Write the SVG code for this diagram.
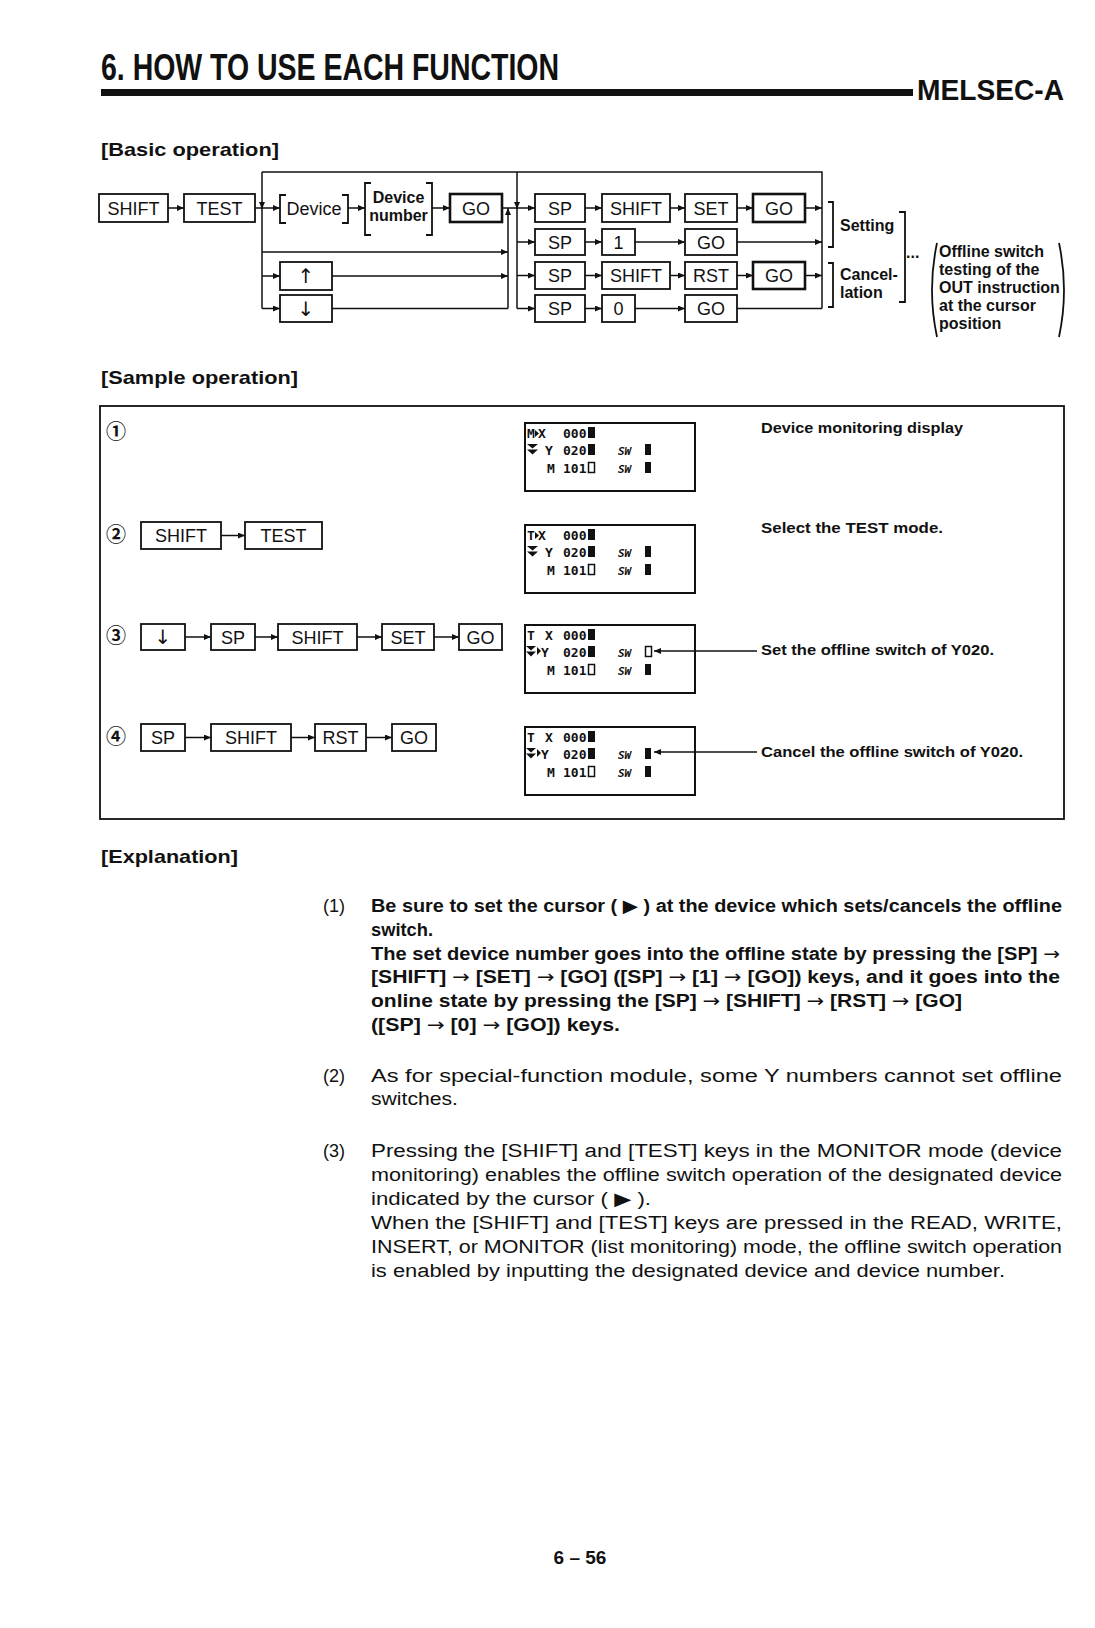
<svg xmlns="http://www.w3.org/2000/svg" width="1095" height="1628" viewBox="0 0 1095 1628">
<defs>
<marker id="ar" markerUnits="userSpaceOnUse" markerWidth="8" markerHeight="6" refX="7" refY="3" orient="auto">
<path d="M0,0 L7,3 L0,6 z" fill="#111"/>
</marker>
<style>
text{font-family:"Liberation Sans",Arial,sans-serif;fill:#111}
.k{fill:#fff;stroke:#111;stroke-width:1.8}
.kg{fill:#fff;stroke:#111;stroke-width:2.6}
.kt{font-size:18px;text-anchor:middle}
.ka{font-family:"DejaVu Sans",sans-serif;font-size:20px;text-anchor:middle}
.ln{fill:none;stroke:#111;stroke-width:1.5}
.a{fill:none;stroke:#111;stroke-width:1.5;marker-end:url(#ar)}
.br{fill:none;stroke:#111;stroke-width:1.8}
.h{font-size:19px;font-weight:bold}
.lb{font-size:16px;font-weight:bold}
.rt{font-size:15px;font-weight:bold}
.p{font-size:18px}
.pb{font-size:18px;font-weight:bold}
.arr{font-family:"DejaVu Sans",sans-serif;font-weight:normal}
.cn{font-family:"Noto Sans CJK JP","DejaVu Sans",sans-serif;font-size:20px;font-weight:bold;text-anchor:middle}
.lcd{fill:none;stroke:#111;stroke-width:2}
.m{font-family:"DejaVu Sans Mono","Liberation Mono",monospace;font-size:13px;font-weight:bold}
.sw{font-family:"DejaVu Sans Mono","Liberation Mono",monospace;font-size:11px;font-weight:bold;font-style:italic}
</style>
</defs>

<g id="header">
<text x="101" y="80" font-size="36" font-weight="bold" textLength="458" lengthAdjust="spacingAndGlyphs">6. HOW TO USE EACH FUNCTION</text>
<rect x="101" y="89" width="812" height="7" fill="#111"/>
<text x="917" y="100" font-size="29" font-weight="bold" textLength="147" lengthAdjust="spacingAndGlyphs">MELSEC-A</text>
</g>

<text class="h" x="101" y="156" textLength="178" lengthAdjust="spacingAndGlyphs">[Basic operation]</text>

<g id="basic-connectors">
<path class="a" d="M168,208 H184"/>
<path class="ln" d="M255,208 H262"/>
<path class="ln" d="M262,172 H822 V308.5"/>
<path class="a" d="M262,172 V209"/>
<path class="ln" d="M262,208 V308.5"/>
<path class="a" d="M262,208 H280"/>
<path class="a" d="M348,208 H365"/>
<path class="a" d="M432,208 H450"/>
<path class="ln" d="M502,208 H517"/>
<path class="a" d="M262,252 H508"/>
<path class="a" d="M262,276 H280"/>
<path class="a" d="M332,276 H508"/>
<path class="a" d="M262,308.5 H280"/>
<path class="ln" d="M332,308.5 H508"/>
<path class="a" d="M508,308.5 V208"/>
<path class="a" d="M517,172 V209"/>
<path class="ln" d="M517,208 V308.5"/>
<path class="a" d="M517,208 H535"/>
<path class="a" d="M517,242 H535"/>
<path class="a" d="M517,275.5 H535"/>
<path class="a" d="M517,308.5 H535"/>
<path class="a" d="M585,208 H602"/>
<path class="a" d="M670,208 H685"/>
<path class="a" d="M737,208 H753"/>
<path class="a" d="M805,208 H822"/>
<path class="a" d="M585,242 H602"/>
<path class="a" d="M635,242 H685"/>
<path class="a" d="M737,242 H822"/>
<path class="a" d="M585,275.5 H602"/>
<path class="a" d="M670,275.5 H685"/>
<path class="a" d="M737,275.5 H753"/>
<path class="a" d="M805,275.5 H822"/>
<path class="a" d="M585,308.5 H602"/>
<path class="a" d="M635,308.5 H685"/>
<path class="ln" d="M737,308.5 H822"/>
</g>

<g id="b-shift"><rect class="k" x="99" y="194" width="69" height="28"/><text class="kt" x="133.5" y="214.5">SHIFT</text></g>
<g id="b-test"><rect class="k" x="184" y="194" width="71" height="28"/><text class="kt" x="219.5" y="214.5">TEST</text></g>
<g id="b-device"><path class="br" d="M286,195 h-6 v28 h6 M342,195 h6 v28 h-6"/><text class="kt" x="314" y="215">Device</text></g>
<g id="b-devnum"><path class="br" d="M371,183 h-6 v52 h6 M426,183 h6 v52 h-6"/><text class="lb" x="398.5" y="203" text-anchor="middle">Device</text><text class="lb" x="398.5" y="221" text-anchor="middle">number</text></g>
<g id="b-go1"><rect class="kg" x="450" y="194" width="52" height="28"/><text class="kt" x="476" y="214.5">GO</text></g>
<g id="b-up"><rect class="k" x="280" y="262" width="52" height="28"/><text class="ka" x="306" y="283">↑</text></g>
<g id="b-down"><rect class="k" x="280" y="295" width="52" height="27"/><text class="ka" x="306" y="315.5">↓</text></g>

<g id="r1-sp"><rect class="k" x="535" y="194" width="50" height="28"/><text class="kt" x="560" y="214.5">SP</text></g>
<g id="r1-shift"><rect class="k" x="602" y="194" width="68" height="28"/><text class="kt" x="636" y="214.5">SHIFT</text></g>
<g id="r1-set"><rect class="k" x="685" y="194" width="52" height="28"/><text class="kt" x="711" y="214.5">SET</text></g>
<g id="r1-go"><rect class="kg" x="753" y="194" width="52" height="28"/><text class="kt" x="779" y="214.5">GO</text></g>
<g id="r2-sp"><rect class="k" x="535" y="229" width="50" height="26"/><text class="kt" x="560" y="248.5">SP</text></g>
<g id="r2-1"><rect class="k" x="602" y="229" width="33" height="26"/><text class="kt" x="618.5" y="248.5">1</text></g>
<g id="r2-go"><rect class="k" x="685" y="229" width="52" height="26"/><text class="kt" x="711" y="248.5">GO</text></g>
<g id="r3-sp"><rect class="k" x="535" y="262" width="50" height="27"/><text class="kt" x="560" y="282">SP</text></g>
<g id="r3-shift"><rect class="k" x="602" y="262" width="68" height="27"/><text class="kt" x="636" y="282">SHIFT</text></g>
<g id="r3-rst"><rect class="k" x="685" y="262" width="52" height="27"/><text class="kt" x="711" y="282">RST</text></g>
<g id="r3-go"><rect class="kg" x="753" y="262" width="52" height="27"/><text class="kt" x="779" y="282">GO</text></g>
<g id="r4-sp"><rect class="k" x="535" y="295" width="50" height="27"/><text class="kt" x="560" y="315">SP</text></g>
<g id="r4-0"><rect class="k" x="602" y="295" width="33" height="27"/><text class="kt" x="618.5" y="315">0</text></g>
<g id="r4-go"><rect class="k" x="685" y="295" width="52" height="27"/><text class="kt" x="711" y="315">GO</text></g>

<g id="b-notes">
<path class="br" d="M828,202 h5 v45 h-5 M828,263 h5 v44 h-5 M899,212 h6 v90 h-6"/>
<text class="lb" x="840" y="231">Setting</text>
<text class="lb" x="840" y="280">Cancel-</text>
<text class="lb" x="840" y="298">lation</text>
<text class="lb" x="906" y="258">...</text>
<path class="br" d="M937,243 Q927,290 937,337 M1059,243 Q1069,290 1059,337"/>
<text class="lb" x="939" y="257">Offline switch</text>
<text class="lb" x="939" y="275">testing of the</text>
<text class="lb" x="939" y="293">OUT instruction</text>
<text class="lb" x="939" y="311">at the cursor</text>
<text class="lb" x="939" y="329">position</text>
</g>

<text class="h" x="101" y="384" textLength="197" lengthAdjust="spacingAndGlyphs">[Sample operation]</text>
<rect x="100" y="406" width="964" height="413" fill="none" stroke="#111" stroke-width="1.8"/>

<g id="step1"><text class="cn" x="116" y="439">①</text></g>
<g id="step2"><text class="cn" x="116" y="542">②</text>
<rect class="k" x="141" y="522" width="80" height="27"/><text class="kt" x="181" y="542">SHIFT</text>
<rect class="k" x="245" y="522" width="77" height="27"/><text class="kt" x="283.5" y="542">TEST</text></g>
<g id="step3"><text class="cn" x="116" y="643">③</text>
<rect class="k" x="141" y="624" width="44" height="26"/><text class="ka" x="163" y="644">↓</text>
<rect class="k" x="211" y="624" width="44" height="26"/><text class="kt" x="233" y="643.5">SP</text>
<rect class="k" x="278" y="624" width="79" height="26"/><text class="kt" x="317.5" y="643.5">SHIFT</text>
<rect class="k" x="382" y="624" width="52" height="26"/><text class="kt" x="408" y="643.5">SET</text>
<rect class="k" x="459" y="624" width="43" height="26"/><text class="kt" x="480.5" y="643.5">GO</text></g>
<g id="step4"><text class="cn" x="116" y="744">④</text>
<rect class="k" x="141" y="724" width="44" height="27"/><text class="kt" x="163" y="744">SP</text>
<rect class="k" x="211" y="724" width="80" height="27"/><text class="kt" x="251" y="744">SHIFT</text>
<rect class="k" x="315" y="724" width="51" height="27"/><text class="kt" x="340.5" y="744">RST</text>
<rect class="k" x="392" y="724" width="44" height="27"/><text class="kt" x="414" y="744">GO</text></g>

<g id="lcd1" transform="translate(525,423)">
<rect class="lcd" x="0" y="0" width="170" height="68"/>
<text class="m" x="2" y="15">M</text><polygon points="10,7 14,10.5 10,14" fill="#111"/><text class="m" x="13" y="15">X</text><text class="m" x="38" y="15">000</text><rect x="63" y="4" width="7" height="11" fill="#111"/>
<polygon points="2,21 13,21 7.5,25.5" fill="#111"/><polygon points="2,26.5 13,26.5 7.5,31.5" fill="#111"/><text class="m" x="20" y="32">Y</text><text class="m" x="38" y="32">020</text><rect x="63" y="21" width="7" height="11" fill="#111"/><text class="sw" x="93" y="32">SW</text><rect x="120" y="21" width="6" height="11" fill="#111"/>
<text class="m" x="22" y="50">M</text><text class="m" x="38" y="50">101</text><rect x="63.5" y="39.5" width="6" height="10" fill="none" stroke="#111" stroke-width="1.5"/><text class="sw" x="93" y="50">SW</text><rect x="120" y="39" width="6" height="11" fill="#111"/>
</g>
<g id="lcd2" transform="translate(525,525)">
<rect class="lcd" x="0" y="0" width="170" height="68"/>
<text class="m" x="2" y="15">T</text><polygon points="10,7 14,10.5 10,14" fill="#111"/><text class="m" x="13" y="15">X</text><text class="m" x="38" y="15">000</text><rect x="63" y="4" width="7" height="11" fill="#111"/>
<polygon points="2,21 13,21 7.5,25.5" fill="#111"/><polygon points="2,26.5 13,26.5 7.5,31.5" fill="#111"/><text class="m" x="20" y="32">Y</text><text class="m" x="38" y="32">020</text><rect x="63" y="21" width="7" height="11" fill="#111"/><text class="sw" x="93" y="32">SW</text><rect x="120" y="21" width="6" height="11" fill="#111"/>
<text class="m" x="22" y="50">M</text><text class="m" x="38" y="50">101</text><rect x="63.5" y="39.5" width="6" height="10" fill="none" stroke="#111" stroke-width="1.5"/><text class="sw" x="93" y="50">SW</text><rect x="120" y="39" width="6" height="11" fill="#111"/>
</g>
<g id="lcd3" transform="translate(525,625)">
<rect class="lcd" x="0" y="0" width="170" height="68"/>
<text class="m" x="2" y="15">T</text><text class="m" x="20" y="15">X</text><text class="m" x="38" y="15">000</text><rect x="63" y="4" width="7" height="11" fill="#111"/>
<polygon points="1,21 11,21 6,25.5" fill="#111"/><polygon points="1,26.5 11,26.5 6,31.5" fill="#111"/><polygon points="12,22 16,26 12,30" fill="#111"/><text class="m" x="16" y="32">Y</text><text class="m" x="38" y="32">020</text><rect x="63" y="21" width="7" height="11" fill="#111"/><text class="sw" x="93" y="32">SW</text><rect x="120.5" y="21.5" width="6" height="10" fill="none" stroke="#111" stroke-width="1.5"/>
<text class="m" x="22" y="50">M</text><text class="m" x="38" y="50">101</text><rect x="63.5" y="39.5" width="6" height="10" fill="none" stroke="#111" stroke-width="1.5"/><text class="sw" x="93" y="50">SW</text><rect x="120" y="39" width="6" height="11" fill="#111"/>
</g>
<g id="lcd4" transform="translate(525,727)">
<rect class="lcd" x="0" y="0" width="170" height="68"/>
<text class="m" x="2" y="15">T</text><text class="m" x="20" y="15">X</text><text class="m" x="38" y="15">000</text><rect x="63" y="4" width="7" height="11" fill="#111"/>
<polygon points="1,21 11,21 6,25.5" fill="#111"/><polygon points="1,26.5 11,26.5 6,31.5" fill="#111"/><polygon points="12,22 16,26 12,30" fill="#111"/><text class="m" x="16" y="32">Y</text><text class="m" x="38" y="32">020</text><rect x="63" y="21" width="7" height="11" fill="#111"/><text class="sw" x="93" y="32">SW</text><rect x="120" y="21" width="6" height="11" fill="#111"/>
<text class="m" x="22" y="50">M</text><text class="m" x="38" y="50">101</text><rect x="63.5" y="39.5" width="6" height="10" fill="none" stroke="#111" stroke-width="1.5"/><text class="sw" x="93" y="50">SW</text><rect x="120" y="39" width="6" height="11" fill="#111"/>
</g>

<g id="sample-connectors">
<path class="a" d="M221,535.5 H245"/>
<path class="a" d="M185,637 H211"/>
<path class="a" d="M255,637 H278"/>
<path class="a" d="M357,637 H382"/>
<path class="a" d="M434,637 H459"/>
<path class="a" d="M185,737.5 H211"/>
<path class="a" d="M291,737.5 H315"/>
<path class="a" d="M366,737.5 H392"/>
<path class="a" d="M757,651 H654"/>
<path class="a" d="M757,752 H654"/>
</g>

<g id="sample-notes">
<text class="rt" x="761" y="433" textLength="202" lengthAdjust="spacingAndGlyphs">Device monitoring display</text>
<text class="rt" x="761" y="533" textLength="182" lengthAdjust="spacingAndGlyphs">Select the TEST mode.</text>
<text class="rt" x="761" y="655" textLength="233" lengthAdjust="spacingAndGlyphs">Set the offline switch of Y020.</text>
<text class="rt" x="761" y="757" textLength="262" lengthAdjust="spacingAndGlyphs">Cancel the offline switch of Y020.</text>
</g>

<g id="explanation">
<text class="h" x="101" y="863" textLength="137" lengthAdjust="spacingAndGlyphs">[Explanation]</text>
<text class="p" x="323" y="912">(1)</text>
<text class="pb" x="371" y="912" textLength="691" lengthAdjust="spacingAndGlyphs">Be sure to set the cursor ( <tspan class="arr">▶</tspan> ) at the device which sets/cancels the offline</text>
<text class="pb" x="371" y="936" textLength="62" lengthAdjust="spacingAndGlyphs">switch.</text>
<text class="pb" x="371" y="960" textLength="689" lengthAdjust="spacingAndGlyphs">The set device number goes into the offline state by pressing the [SP] <tspan class="arr">→</tspan></text>
<text class="pb" x="371" y="983" textLength="689" lengthAdjust="spacingAndGlyphs">[SHIFT] <tspan class="arr">→</tspan> [SET] <tspan class="arr">→</tspan> [GO] ([SP] <tspan class="arr">→</tspan> [1] <tspan class="arr">→</tspan> [GO]) keys, and it goes into the</text>
<text class="pb" x="371" y="1007" textLength="591" lengthAdjust="spacingAndGlyphs">online state by pressing the [SP] <tspan class="arr">→</tspan> [SHIFT] <tspan class="arr">→</tspan> [RST] <tspan class="arr">→</tspan> [GO]</text>
<text class="pb" x="371" y="1031" textLength="249" lengthAdjust="spacingAndGlyphs">([SP] <tspan class="arr">→</tspan> [0] <tspan class="arr">→</tspan> [GO]) keys.</text>
<text class="p" x="323" y="1082">(2)</text>
<text class="p" x="371" y="1082" textLength="691" lengthAdjust="spacingAndGlyphs">As for special-function module, some Y numbers cannot set offline</text>
<text class="p" x="371" y="1105" textLength="87" lengthAdjust="spacingAndGlyphs">switches.</text>
<text class="p" x="323" y="1157">(3)</text>
<text class="p" x="371" y="1157" textLength="691" lengthAdjust="spacingAndGlyphs">Pressing the [SHIFT] and [TEST] keys in the MONITOR mode (device</text>
<text class="p" x="371" y="1181" textLength="691" lengthAdjust="spacingAndGlyphs">monitoring) enables the offline switch operation of the designated device</text>
<text class="p" x="371" y="1205" textLength="280" lengthAdjust="spacingAndGlyphs">indicated by the cursor ( <tspan class="arr">▶</tspan> ).</text>
<text class="p" x="371" y="1229" textLength="691" lengthAdjust="spacingAndGlyphs">When the [SHIFT] and [TEST] keys are pressed in the READ, WRITE,</text>
<text class="p" x="371" y="1253" textLength="691" lengthAdjust="spacingAndGlyphs">INSERT, or MONITOR (list monitoring) mode, the offline switch operation</text>
<text class="p" x="371" y="1277" textLength="634" lengthAdjust="spacingAndGlyphs">is enabled by inputting the designated device and device number.</text>
</g>

<text x="580" y="1564" font-size="19" font-weight="bold" text-anchor="middle">6 – 56</text>
</svg>
